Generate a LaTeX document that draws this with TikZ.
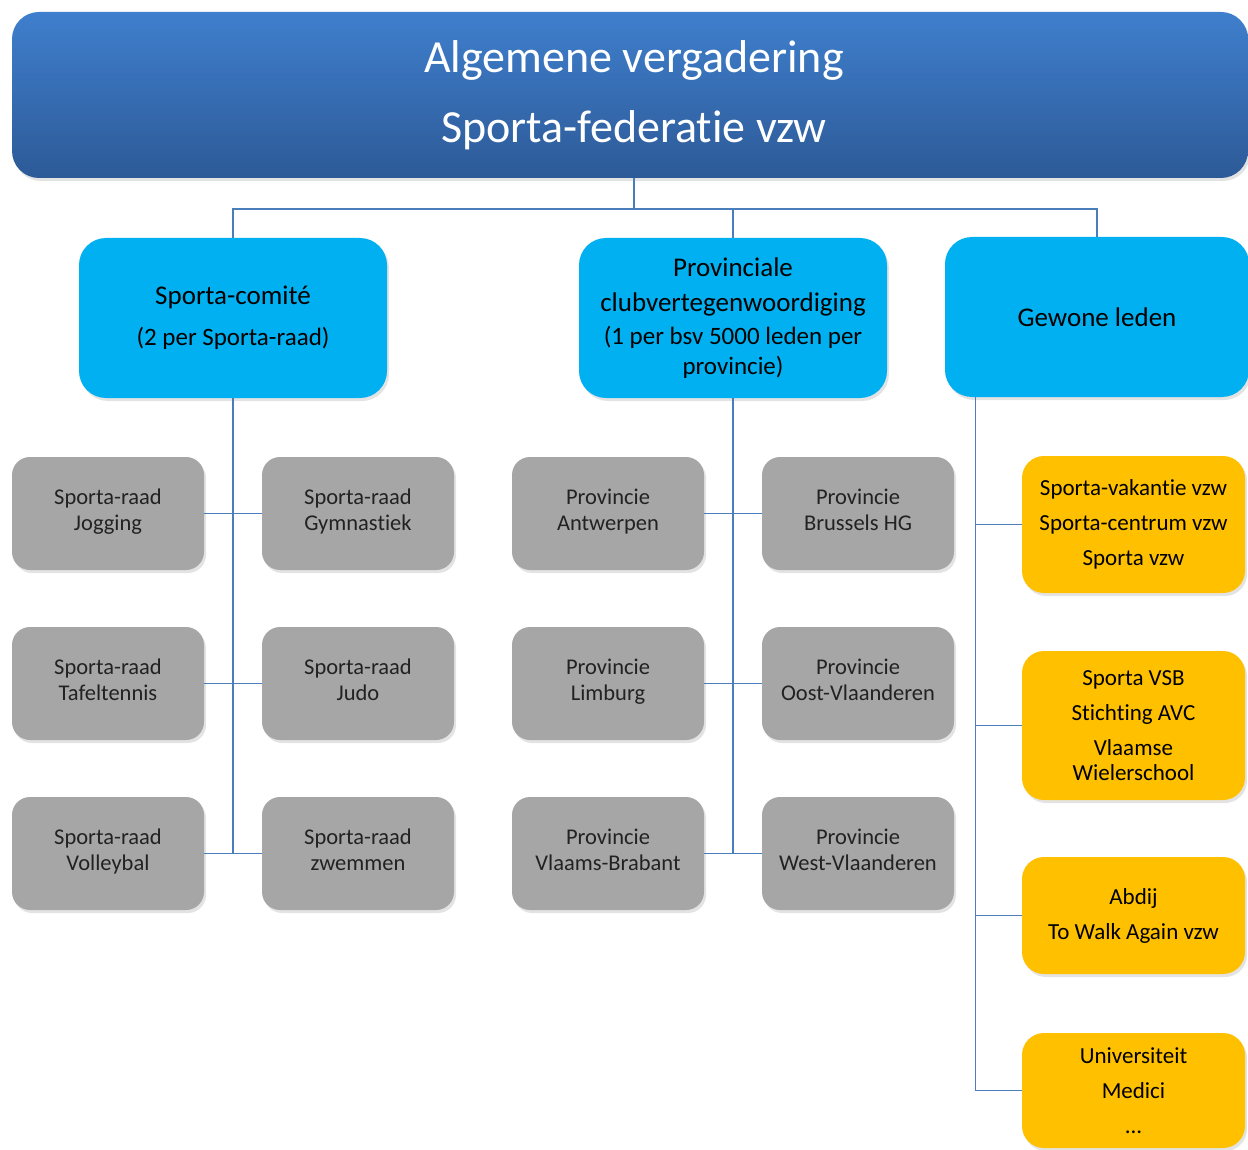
\documentclass[tikz,border=0pt]{standalone}
\usepackage{fontspec}
\setmainfont{Carlito}[Ligatures=NoCommon]
\usetikzlibrary{shadows}
\definecolor{cTopA}{HTML}{3F7FCD}
\definecolor{cTopB}{HTML}{2D5A97}
\definecolor{cLblue}{HTML}{00B0F0}
\definecolor{cGrey}{HTML}{A6A6A6}
\definecolor{cOrange}{HTML}{FFC000}
\definecolor{cConn}{HTML}{4A7EBB}
\definecolor{cGtext}{HTML}{222222}
\newcommand{\smallpar}[1]{{\fontsize{25}{30}\selectfont #1}}
\tikzset{
  basebox/.style={rectangle, align=center, inner sep=0pt,
    drop shadow={shadow xshift=2pt, shadow yshift=-3pt, opacity=0.22}},
  topbox/.style={basebox, rounded corners=27pt, top color=cTopA, bottom color=cTopB,
    draw=none, text=white, font=\fontsize{46}{70}\selectfont},
  lvlbox/.style={basebox, rounded corners=27pt, fill=cLblue, text=black,
    minimum height=160pt, font=\fontsize{27}{35}\selectfont},
  greybox/.style={basebox, rounded corners=18pt, fill=cGrey, text=cGtext,
    minimum width=192pt, minimum height=113pt, font=\fontsize{22.5}{26}\selectfont,
    execute at begin node=\strut, execute at end node=\strut},
  orbox/.style={basebox, rounded corners=22pt, fill=cOrange, text=black,
    minimum width=223pt, font=\fontsize{23}{35}\selectfont},
  cline/.style={draw=cConn, line width=1.3pt}
}
\begin{document}
\begin{tikzpicture}[x=1pt,y=-1pt]
\useasboundingbox (0,0) rectangle (1248,1150);

% top
\node[topbox, minimum width=1236pt, minimum height=166pt] (top) at (630,95)
  {\hspace*{8pt}Algemene vergadering\\\hspace*{8pt}Sporta-federatie vzw};

% level 2
\node[lvlbox, minimum width=308pt] (c1) at (233,318)
  {Sporta-comité\\[6pt]\smallpar{(2 per Sporta-raad)}};
\node[lvlbox, minimum width=308pt] (c2) at (733,318)
  {Provinciale\\clubvertegenwoordiging\\[-2pt]\smallpar{(1 per bsv 5000 leden per}\\[-5pt]\smallpar{provincie)}};
\node[lvlbox, minimum width=304pt] (c3) at (1097,317) {Gewone leden};

% grey boxes
\node[greybox] (g11) at (108,513.5) {Sporta-raad\\Jogging};
\node[greybox] (g12) at (358,513.5) {Sporta-raad\\Gymnastiek};
\node[greybox] (g21) at (108,683.5) {Sporta-raad\\Tafeltennis};
\node[greybox] (g22) at (358,683.5) {Sporta-raad\\Judo};
\node[greybox] (g31) at (108,853.5) {Sporta-raad\\Volleybal};
\node[greybox] (g32) at (358,853.5) {Sporta-raad\\zwemmen};
\node[greybox] (p11) at (608,513.5) {Provincie\\Antwerpen};
\node[greybox] (p12) at (858,513.5) {Provincie\\Brussels HG};
\node[greybox] (p21) at (608,683.5) {Provincie\\Limburg};
\node[greybox] (p22) at (858,683.5) {Provincie\\Oost-Vlaanderen};
\node[greybox] (p31) at (608,853.5) {Provincie\\Vlaams-Brabant};
\node[greybox] (p32) at (858,853.5) {Provincie\\West-Vlaanderen};

% orange boxes
\node[orbox, minimum height=137pt] (o1) at (1133.5,524.5)
  {Sporta-vakantie vzw\\Sporta-centrum vzw\\Sporta vzw};
\node[orbox, minimum height=149pt] (o2) at (1133.5,725.5)
  {Sporta VSB\\Stichting AVC\\Vlaamse\\[-10pt]Wielerschool};
\node[orbox, minimum height=117pt] (o3) at (1133.5,915.5)
  {Abdij\\To Walk Again vzw};
\node[orbox, minimum height=115pt] (o4) at (1133.5,1090.5)
  {Universiteit\\Medici\\...};

% connectors
\coordinate (bus) at (0,209);
\coordinate (topout) at ([xshift=4pt]top.south);
\draw[cline] (topout) -- (topout |- bus);
\draw[cline] (c1.north) |- (c3.north |- bus) -- (c3.north);
\draw[cline] (c2.north) -- (c2.north |- bus);

\draw[cline] (c1.south) -- (c1.south |- g31.east);
\draw[cline] (c2.south) -- (c2.south |- p31.east);
\draw[cline] (g11.east) -- (g12.west);
\draw[cline] (g21.east) -- (g22.west);
\draw[cline] (g31.east) -- (g32.west);
\draw[cline] (p11.east) -- (p12.west);
\draw[cline] (p21.east) -- (p22.west);
\draw[cline] (p31.east) -- (p32.west);

\coordinate (gl) at ([xshift=31pt]c3.south west);
\draw[cline] (gl) |- (o4.west);
\draw[cline] (gl |- o1.west) -- (o1.west);
\draw[cline] (gl |- o2.west) -- (o2.west);
\draw[cline] (gl |- o3.west) -- (o3.west);
\end{tikzpicture}
\end{document}
